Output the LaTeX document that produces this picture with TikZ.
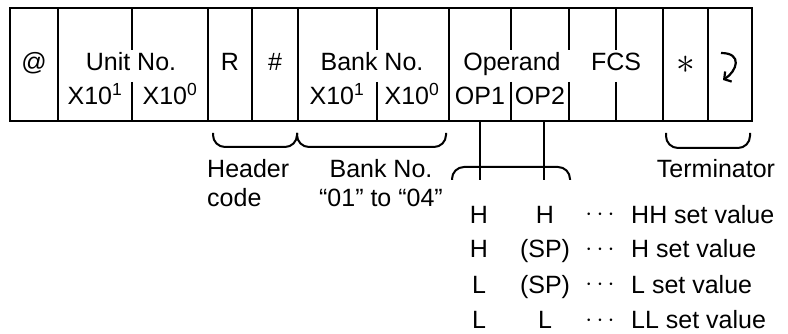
\documentclass[tikz,border=0pt]{standalone}
\usepackage{fontspec}
\setmainfont{Liberation Sans}
\usetikzlibrary{arrows.meta,positioning}

\begin{document}
\begin{tikzpicture}[x=1pt,y=-1pt,>=Latex,
  every node/.style={inner sep=0pt,font=\fontsize{25}{29}\selectfont},
  lbl/.style={anchor=base},
  frameline/.style={line width=2pt},
  grp/.style={line width=2pt,rounded corners=12pt}]
  \useasboundingbox (0,0) rectangle (788,334);
  % frame
  \node[draw,frameline,outer sep=0pt,minimum width=742pt,minimum height=113pt,anchor=north west] (frame) at (10,8) {};
  \foreach \dx in {58,208,252,298,449,663,708}
    \draw[frameline] (\dx,8) -- (\dx,121);
  \foreach \dx in {132,377,511,569,616}
    \draw[frameline] (\dx,8) -- (\dx,50) (\dx,82) -- (\dx,121);
  % first row
  \node[lbl] (atmark) at (34,71) {@};
  \node[lbl] (unit) at (131,71) {Unit No.};
  \node[lbl] (rchar) at (230,71) {R};
  \node[lbl] (hash) at (275,71) {\#};
  \node[lbl] (bank) at (372,71) {Bank No.};
  \node[lbl] (oper) at (512,71) {Operand};
  \node[lbl] (fcs) at (616,71) {FCS};
  \node[lbl] (star) at (686,74) {\scalebox{1.5}{$\ast$}};
  \coordinate (crtop) at (721,53);
  \coordinate (crend) at (723,80);
  \draw[line width=2.2pt,-{Straight Barb[length=5pt,width=12pt]}] (crtop) .. controls (743,53) and (737,71) .. (crend);
  % second row
  \node[lbl] (unithi) at (95,105) {X10\textsuperscript{1}};
  \node[lbl] (unitlo) at (170,105) {X10\textsuperscript{0}};
  \node[lbl] (bankhi) at (337,105) {X10\textsuperscript{1}};
  \node[lbl] (banklo) at (412,105) {X10\textsuperscript{0}};
  \node[lbl] (op1) at (480,105) {OP1};
  \node[lbl] (op2) at (540,105) {OP2};
  % groups under the frame
  \draw[grp] (213,133) -- (213,147) -- (297,147) -- (297,133);
  \draw[grp] (297,133) -- (297,147) -- (446,147) -- (446,133);
  \draw[grp] (666,133) -- (666,148) -- (750,148) -- (750,133);
  \draw[grp] (452,180) -- (452,167) -- (570,167) -- (570,180);
  \coordinate (op1foot) at (480,180);
  \coordinate (op2foot) at (544,180);
  \draw[frameline] (op1 |- frame.south) -- (op1foot);
  \draw[frameline] (op2foot |- frame.south) -- (op2foot);
  \node[lbl,anchor=base west] (hdrtxt) at (207,178) {Header};
  \node[lbl,anchor=base west] (hdrtxtb) at (207,207) {code};
  \node[lbl] (banktxt) at (381,178) {Bank No.};
  \node[lbl] (banktxtb) at (381,207) {“01” to “04”};
  \node[lbl] (termtxt) at (716,178) {Terminator};
  % operand values
  \foreach \ya/\yb/\yc/\yd [count=\i] in {223/H/H/HH set value,258/H/(SP)/H set value,293/L/(SP)/L set value,328/L/L/LL set value} {
    \node[lbl] (opa\i) at (479,\ya) {\yb};
    \node[lbl] (opb\i) at (545,\ya) {\yc};
    \node[lbl] (dots\i) at (600,\ya) {\raisebox{2pt}{$\cdots$}};
    \node[lbl,anchor=base west] (val\i) at (631,\ya) {\yd};
  }
\end{tikzpicture}
\end{document}
